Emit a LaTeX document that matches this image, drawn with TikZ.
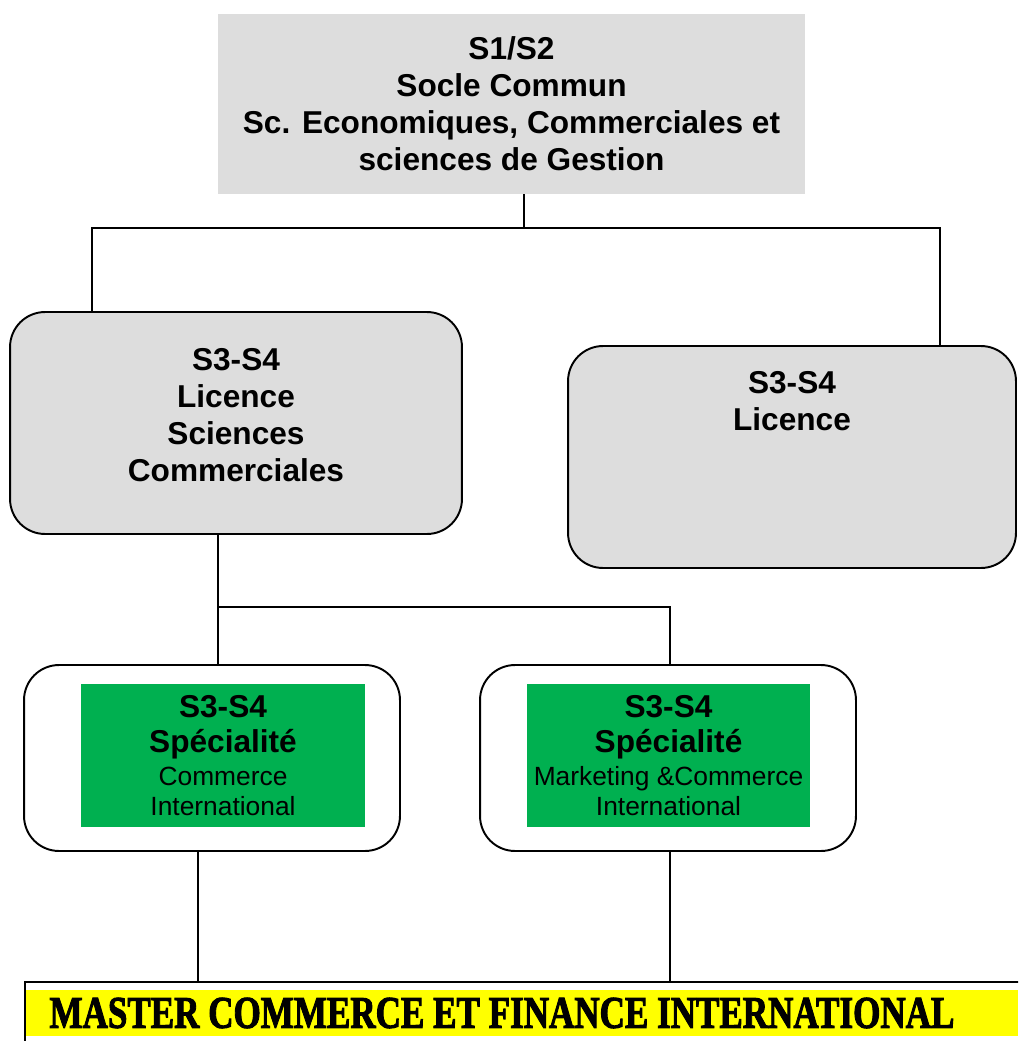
\documentclass[tikz,border=0pt]{standalone}
\usepackage{fontspec}
\setmainfont{Liberation Sans}
\newfontfamily\stencilfont[BoldFeatures={FakeBold=2.5}]{Liberation Serif}
\usepackage{graphicx}
\usetikzlibrary{positioning}
\definecolor{boxgrey}{RGB}{221, 221, 221}
\definecolor{specgreen}{RGB}{0, 176, 80}
\definecolor{masteryellow}{RGB}{255, 255, 0}
\newcommand{\spechead}{\fontsize{18}{21}\selectfont\bfseries}
\newcommand{\specbody}{\fontsize{15}{17}\selectfont\mdseries}

\begin{document}
\begin{tikzpicture}[x=0.02cm, y=-0.02cm,
    headfont/.style={font=\fontsize{18}{21}\selectfont\bfseries},
    greybox/.style={fill=boxgrey, align=center, headfont},
    licbox/.style={draw, line width=1.1pt, fill=boxgrey, rounded corners=0.7cm,
      minimum width=9cm, minimum height=4.44cm, align=center, headfont},
    outerbox/.style={draw, line width=1.1pt, fill=white, rounded corners=0.7cm,
      minimum width=7.52cm, minimum height=3.72cm},
    specbox/.style={fill=specgreen, align=center, minimum width=5.68cm,
      minimum height=2.86cm, inner sep=0pt, font=\specbody},
    link/.style={line width=0.9pt}]
  \clip (0,0) rectangle (1018,1041);

  % tronc commun S1/S2
  \node[greybox, minimum width=11.74cm, minimum height=3.6cm] (socle) at (511.5,104)
    {S1/S2\\Socle Commun\\Sc. Economiques, Commerciales et\\sciences de Gestion};

  % licences S3-S4
  \node[licbox, minimum width=9.04cm, text depth=0.32cm] (licL) at (236,423)
    {S3-S4\\Licence\\Sciences\\Commerciales};
  \node[licbox, minimum width=8.96cm] (licR) at (792,457) {};
  \node[headfont, align=center, inner sep=0pt, below=0.52cm of licR.north] (licRtxt)
    {S3-S4\\Licence};

  % branches vers les licences
  \coordinate (topjoin) at (524,228);
  \coordinate (joinL) at (92,228);
  \coordinate (joinR) at (940,228);
  \draw[link] (socle.south -| topjoin) -- (topjoin);
  \draw[link] (licL.north -| joinL) -- (joinL) -- (joinR) -- (licR.north -| joinR);

  % specialites
  \node[outerbox] (outL) at (212,758) {};
  \node[specbox] (specL) at (223,755.5)
    {{\spechead S3-S4}\\[3pt]{\spechead Spécialité}\\[1.5pt]Commerce\\International};
  \node[outerbox] (outR) at (668,758) {};
  \node[specbox] (specR) at (668.5,755.5)
    {{\spechead S3-S4}\\[3pt]{\spechead Spécialité}\\[1.5pt]Marketing \&Commerce\\International};

  % branches vers les specialites
  \coordinate (specjoinL) at (218,607);
  \coordinate (specjoinR) at (670,607);
  \draw[link] (licL.south -| specjoinL) -- (specjoinL) -- (specjoinR) -- (outR.north -| specjoinR);
  \draw[link] (specjoinL) -- (outL.north -| specjoinL);

  % master
  \node[draw, line width=1.1pt, anchor=north west, minimum width=20.2cm,
    minimum height=1.6cm] (master) at (24,981) {};
  \fill[masteryellow] (26,990) rectangle (1018,1036);
  \node[inner sep=0pt] (mastertxt) at (502,1013)
    {\stencilfont\bfseries\resizebox{18.1cm}{0.6cm}{MASTER COMMERCE ET FINANCE INTERNATIONAL}};

  % liaisons vers le master
  \coordinate (dropL) at (198,900);
  \coordinate (dropR) at (670,900);
  \draw[link] (outL.south -| dropL) -- (master.north -| dropL);
  \draw[link] (outR.south -| dropR) -- (master.north -| dropR);
\end{tikzpicture}
\end{document}
